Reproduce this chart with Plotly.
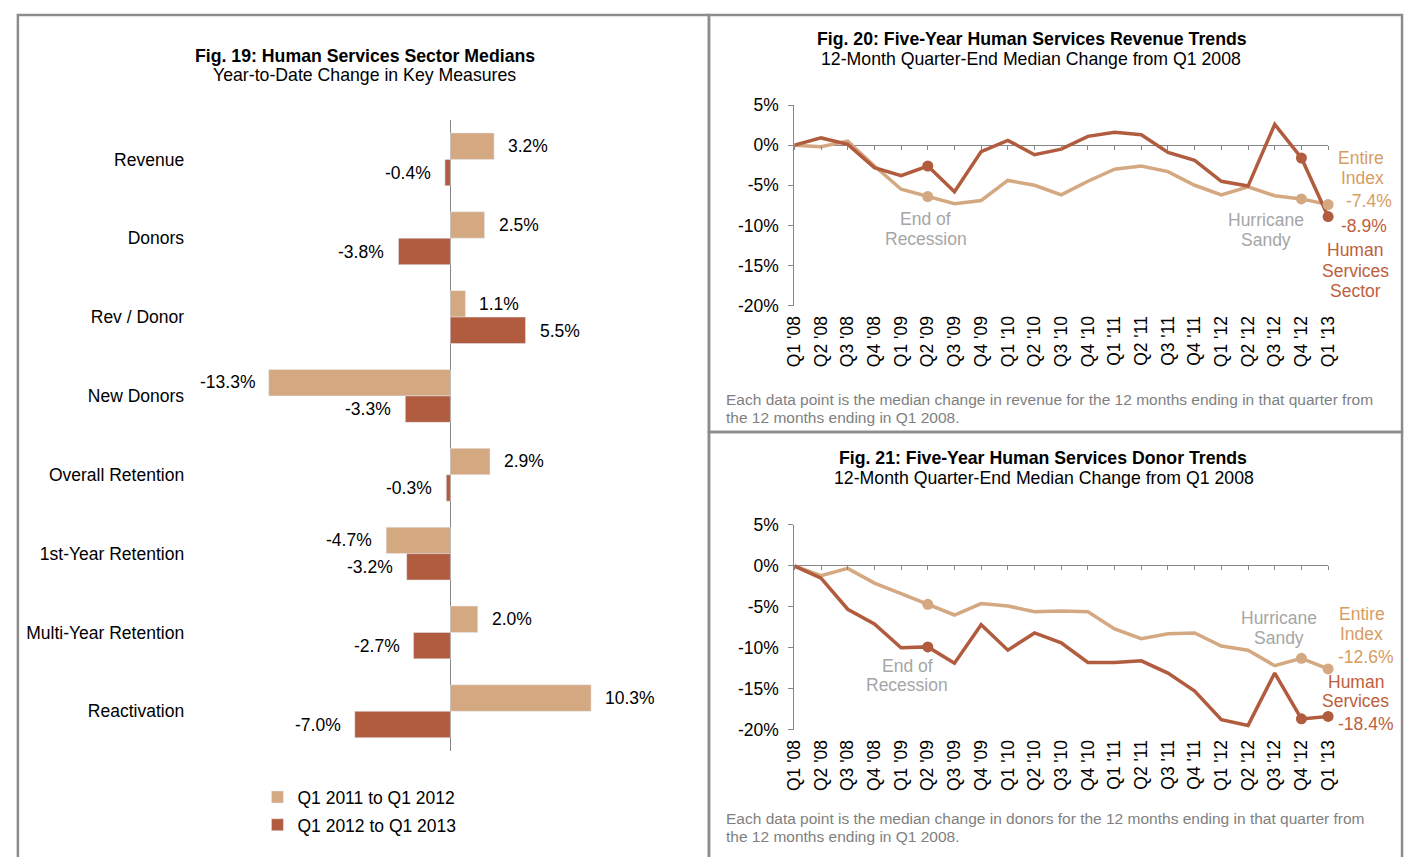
import plotly.graph_objects as go

W, H = 1415, 857

# ---- Fig. 19 data ----
categories = ["Revenue", "Donors", "Rev / Donor", "New Donors", "Overall Retention",
              "1st-Year Retention", "Multi-Year Retention", "Reactivation"]
q11_to_q12 = [3.2, 2.5, 1.1, -13.3, 2.9, -4.7, 2.0, 10.3]
q12_to_q13 = [-0.4, -3.8, 5.5, -3.3, -0.3, -3.2, -2.7, -7.0]

# ---- Fig. 20 / 21 data ----
quarters = ["Q1 '08", "Q2 '08", "Q3 '08", "Q4 '08", "Q1 '09", "Q2 '09", "Q3 '09", "Q4 '09",
            "Q1 '10", "Q2 '10", "Q3 '10", "Q4 '10", "Q1 '11", "Q2 '11", "Q3 '11", "Q4 '11",
            "Q1 '12", "Q2 '12", "Q3 '12", "Q4 '12", "Q1 '13"]
rev_sector = [0, 0.9, 0.1, -2.8, -3.8, -2.6, -5.8, -0.8, 0.6, -1.2, -0.5, 1.1, 1.6, 1.3,
              -0.9, -1.9, -4.5, -5.1, 2.6, -1.6, -8.9]
rev_index = [0, -0.2, 0.5, -2.6, -5.5, -6.4, -7.3, -6.9, -4.4, -5.0, -6.2, -4.5, -3.0, -2.6,
             -3.3, -5.0, -6.2, -5.2, -6.3, -6.7, -7.4]
don_sector = [0, -1.5, -5.3, -7.1, -10.0, -9.9, -11.9, -7.2, -10.3, -8.2, -9.4, -11.8, -11.8,
              -11.6, -13.1, -15.3, -18.8, -19.5, -13.1, -18.7, -18.4]
don_index = [0, -1.2, -0.3, -2.1, -3.4, -4.7, -6.0, -4.6, -4.9, -5.6, -5.5, -5.6, -7.7, -8.9,
             -8.3, -8.2, -9.8, -10.3, -12.2, -11.3, -12.6]
marked = ["Q2 '09", "Q4 '12", "Q1 '13"]
y_tick_vals = [5, 0, -5, -10, -15, -20]
y_tick_text = ["5%", "0%", "-5%", "-10%", "-15%", "-20%"]

LIGHT = "#D4A881"
DARK = "#B15C3F"
LIGHT_TXT = "#D79C62"
DARK_TXT = "#BE5E3C"
GREY = "#A6A6A6"
AXIS = "#868686"
FONT = "Liberation Sans, Arial, sans-serif"
FS = 17.5


def px(x):
    return x / W


def py(y):
    return 1 - y / H


fig = go.Figure()

# bars
fig.add_trace(go.Bar(y=categories, x=q11_to_q12, orientation="h", name="Q1 2011 to Q1 2012",
                     marker_color=LIGHT, xaxis="x", yaxis="y", legendgroup="a"))
fig.add_trace(go.Bar(y=categories, x=q12_to_q13, orientation="h", name="Q1 2012 to Q1 2013",
                     marker_color=DARK, xaxis="x", yaxis="y", legendgroup="b"))

annotations = []
for vals, shift in [(q11_to_q12, 13.5), (q12_to_q13, -13.5)]:
    for c, v in zip(categories, vals):
        annotations.append(dict(x=v, y=c, xref="x", yref="y", text="%.1f%%" % v, showarrow=False,
                                xanchor="left" if v >= 0 else "right",
                                xshift=12 if v >= 0 else -12, yshift=shift,
                                font=dict(size=FS, color="#000000")))


def line_chart(xa, ya, sector, index):
    fig.add_trace(go.Scatter(x=quarters, y=index, mode="lines", line=dict(color=LIGHT, width=3.5),
                             xaxis=xa, yaxis=ya, showlegend=False, cliponaxis=False))
    fig.add_trace(go.Scatter(x=quarters, y=sector, mode="lines", line=dict(color=DARK, width=3.5),
                             xaxis=xa, yaxis=ya, showlegend=False, cliponaxis=False))
    for vals, col in [(index, LIGHT), (sector, DARK)]:
        fig.add_trace(go.Scatter(x=marked, y=[vals[quarters.index(q)] for q in marked], mode="markers",
                                 marker=dict(color=col, size=11), xaxis=xa, yaxis=ya,
                                 showlegend=False, cliponaxis=False))


line_chart("x2", "y2", rev_sector, rev_index)
line_chart("x3", "y3", don_sector, don_index)

# invisible traces for the tick-mark axes on the 0% lines
fig.add_trace(go.Scatter(x=quarters, y=[0] * len(quarters), mode="markers", marker_opacity=0,
                         xaxis="x4", yaxis="y2", showlegend=False, hoverinfo="skip"))
fig.add_trace(go.Scatter(x=quarters, y=[0] * len(quarters), mode="markers", marker_opacity=0,
                         xaxis="x5", yaxis="y3", showlegend=False, hoverinfo="skip"))

line_x_dom = [px(795.6), px(1337)]
rev_y_dom = [py(302.7), py(97.3)]
don_y_dom = [py(736.7), py(527.3)]

xcat = dict(type="category", range=[0, 20], showgrid=False, zeroline=False, showline=False)

fig.update_layout(
    width=W, height=H, margin=dict(l=0, r=0, t=0, b=0),
    paper_bgcolor="white", plot_bgcolor="white", hovermode=False,
    font=dict(family=FONT, size=FS, color="#000000"),
    barmode="group", bargap=0.33, bargroupgap=0,
    xaxis=dict(domain=[px(252.7), px(613)], range=[-14, 12], showticklabels=False, showgrid=False,
               zeroline=True, zerolinecolor=AXIS, zerolinewidth=1, anchor="y"),
    yaxis=dict(domain=[py(758.4), py(112.6)], range=[7.5, -0.5], showgrid=False, zeroline=False,
               ticks="", ticklabelstandoff=74, anchor="x"),
    xaxis2=dict(xcat, domain=line_x_dom, anchor="y2", tickangle=-90, ticks="", ticklabelstandoff=6),
    yaxis2=dict(domain=rev_y_dom, range=[-20, 5], tickvals=y_tick_vals, ticktext=y_tick_text,
                showgrid=False, showline=True, linecolor=AXIS, linewidth=1, ticks="outside",
                ticklen=5, tickcolor=AXIS, zeroline=True, zerolinecolor=AXIS, zerolinewidth=1,
                anchor="x2", ticklabelstandoff=6),
    xaxis3=dict(xcat, domain=line_x_dom, anchor="y3", tickangle=-90, ticks="", ticklabelstandoff=6),
    yaxis3=dict(domain=don_y_dom, range=[-20, 5], tickvals=y_tick_vals, ticktext=y_tick_text,
                showgrid=False, showline=True, linecolor=AXIS, linewidth=1, ticks="outside",
                ticklen=5, tickcolor=AXIS, zeroline=True, zerolinecolor=AXIS, zerolinewidth=1,
                anchor="x3", ticklabelstandoff=6),
    xaxis4=dict(xcat, domain=line_x_dom, overlaying="x2", anchor="free", position=py(138.3),
                ticks="outside", ticklen=4, tickcolor=AXIS, showticklabels=False),
    xaxis5=dict(xcat, domain=line_x_dom, overlaying="x3", anchor="free", position=py(568.3),
                ticks="outside", ticklen=4, tickcolor=AXIS, showticklabels=False),
    legend=dict(x=px(251), y=py(787.5), xanchor="left", yanchor="top", traceorder="grouped",
                tracegroupgap=2, font=dict(size=FS), bgcolor="rgba(0,0,0,0)", itemwidth=30),
)


def txt(x, y, text, color="#000000", size=FS, bold=False, anchor="center"):
    annotations.append(dict(x=px(x), y=py(y), xref="paper", yref="paper",
                            text="<b>%s</b>" % text if bold else text, showarrow=False,
                            xanchor=anchor, yanchor="middle", font=dict(size=size, color=color)))


def lines(x, y0, rows, color, gap=20.5):
    for i, r in enumerate(rows):
        txt(x, y0 + i * gap, r, color=color)


# titles
txt(360, 47, "Fig. 19: Human Services Sector Medians", size=17.7, bold=True)
txt(360, 67, "Year-to-Date Change in Key Measures", size=17.7)
txt(1037, 30, "Fig. 20: Five-Year Human Services Revenue Trends", size=17.7, bold=True)
txt(1036, 50, "12-Month Quarter-End Median Change from Q1 2008", size=17.7)
txt(1048, 459, "Fig. 21: Five-Year Human Services Donor Trends", size=17.7, bold=True)
txt(1049, 479, "12-Month Quarter-End Median Change from Q1 2008", size=17.7)

# revenue chart labels
lines(929, 214, ["End of", "Recession"], GREY, 20)
lines(1274, 215, ["Hurricane", "Sandy"], GREY, 20)
txt(1370.5, 152, "Entire", color=LIGHT_TXT)
txt(1372, 172, "Index", color=LIGHT_TXT)
txt(1378, 196, "-7.4%", color=LIGHT_TXT)
txt(1373, 221, "-8.9%", color=DARK_TXT)
txt(1364, 246, "Human", color=DARK_TXT)
lines(1365, 267, ["Services", "Sector"], DARK_TXT, 21)

# donor chart labels
lines(910, 672, ["End of", "Recession"], GREY, 19.5)
lines(1287, 623, ["Hurricane", "Sandy"], GREY, 20)
lines(1371, 618, ["Entire", "Index"], LIGHT_TXT, 21)
txt(1375, 662, "-12.6%", color=LIGHT_TXT)
lines(1365, 688, ["Human", "Services"], DARK_TXT, 20)
txt(1375, 731, "-18.4%", color=DARK_TXT)

# footnotes
NOTE = "#7F7F7F"
txt(724, 399, "Each data point is the median change in revenue for the 12 months ending in that quarter from",
    color=NOTE, size=15.5, anchor="left")
txt(724, 417, "the 12 months ending in Q1 2008.", color=NOTE, size=15.5, anchor="left")
txt(724, 828, "Each data point is the median change in donors for the 12 months ending in that quarter from",
    color=NOTE, size=15.5, anchor="left")
txt(724, 846, "the 12 months ending in Q1 2008.", color=NOTE, size=15.5, anchor="left")

# panel borders
BORDER = "#8C8C8C"
shapes = [
    dict(type="rect", xref="paper", yref="paper", x0=px(8), x1=px(709), y0=py(880), y1=py(5)),
    dict(type="rect", xref="paper", yref="paper", x0=px(709), x1=px(1412), y0=py(432), y1=py(5)),
    dict(type="rect", xref="paper", yref="paper", x0=px(709), x1=px(1412), y0=py(880), y1=py(432)),
]
for s in shapes:
    s["line"] = dict(color=BORDER, width=2.5)

fig.update_layout(annotations=annotations, shapes=shapes)

fig.write_html("out.html", config={"displayModeBar": False},
               post_script="document.body.style.margin='0';document.body.style.overflow='hidden';")
